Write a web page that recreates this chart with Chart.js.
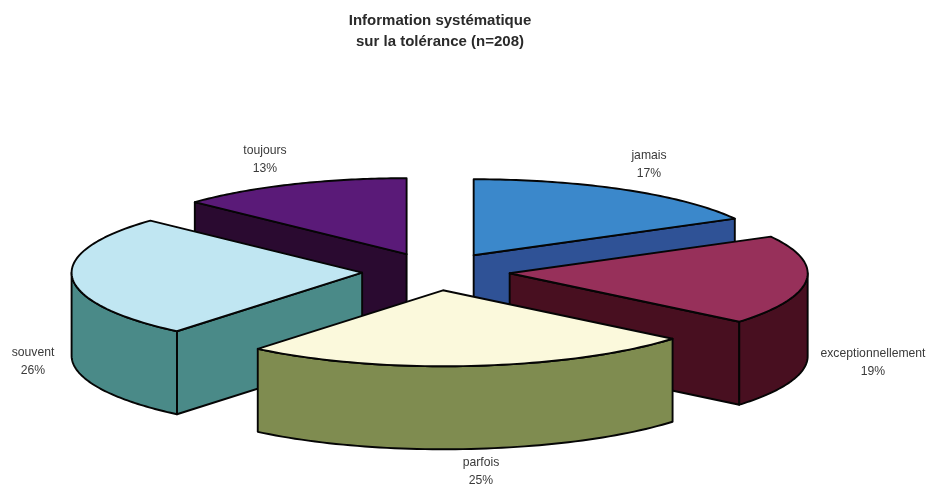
<!DOCTYPE html>
<html>
<head>
<meta charset="utf-8">
<script src="https://cdn.jsdelivr.net/npm/chart.js@4"></script>
<style>
  html, body { margin: 0; padding: 0; background: #fff; }
  #wrap { width: 928px; height: 485px; }
</style>
</head>
<body>
<div id="wrap"><canvas id="chart" width="928" height="485"></canvas></div>
<script>
const categories = ["jamais", "exceptionnellement", "parfois", "souvent", "toujours"];
const shares = [17, 19, 25, 26, 13];
const titleLines = ["Information systématique", "sur la tolérance (n=208)"];

const topColors = ["#3b88cb", "#97305a", "#fbf9dc", "#c0e6f2", "#5a1a78"];
const wallColors = ["#2f5296", "#480f20", "#7f8c50", "#4a8a88", "#2a0a30"];

// where the pie sits on the page and how it is tilted
const centerX = 436;
const centerY = 271.5;
const tilt = 0.255;
const leftSqueeze = 0.975; // the scan's left half is a little narrower
const depth = 83;
const explode = 296; // chart.js moves an arc by offset / 4
const paintOrder = [4, 0, 3, 1, 2];
const labelSpots = [
  [649, 156], [873, 354], [481, 463], [33, 353], [265, 151]
];

function paintSlice(ctx, arc, i) {
  const { startAngle, endAngle, outerRadius } = arc.getProps(["startAngle", "endAngle", "outerRadius"]);
  const shift = arc.options.offset / 4;
  const mid = (startAngle + endAngle) / 2;
  const tipX = centerX + Math.cos(mid) * shift;
  const tipY = centerY + Math.sin(mid) * shift * tilt;
  const rimX = (a) => tipX + Math.cos(a) * outerRadius * (Math.cos(a) < 0 ? leftSqueeze : 1);
  const rimY = (a) => tipY + Math.sin(a) * outerRadius * tilt;
  const traceRim = (from, to, drop) => {
    const steps = 60;
    for (let s = 0; s <= steps; s++) {
      const a = from + ((to - from) * s) / steps;
      ctx.lineTo(rimX(a), rimY(a) + drop);
    }
  };

  ctx.save();
  ctx.lineWidth = 1.9;
  ctx.strokeStyle = "#050505";
  ctx.lineJoin = "round";
  ctx.fillStyle = wallColors[i];

  // side walls that face the viewer
  [[startAngle, startAngle - Math.PI / 2], [endAngle, endAngle + Math.PI / 2]].forEach(([a, normal]) => {
    if (Math.sin(normal) <= 0.001) return;
    ctx.beginPath();
    ctx.moveTo(tipX, tipY);
    ctx.lineTo(rimX(a), rimY(a));
    ctx.lineTo(rimX(a), rimY(a) + depth);
    ctx.lineTo(tipX, tipY + depth);
    ctx.closePath();
    ctx.fill();
    ctx.stroke();
  });

  // outer wall, only the front half of the ellipse
  const from = Math.max(startAngle, 0);
  const to = Math.min(endAngle, Math.PI);
  if (to > from) {
    ctx.beginPath();
    traceRim(from, to, 0);
    traceRim(to, from, depth);
    ctx.closePath();
    ctx.fill();
    ctx.stroke();
  }

  // top face
  ctx.fillStyle = arc.options.backgroundColor;
  ctx.beginPath();
  ctx.moveTo(tipX, tipY);
  traceRim(startAngle, endAngle, 0);
  ctx.closePath();
  ctx.fill();
  ctx.stroke();
  ctx.restore();
}

const pie3d = {
  id: "pie3d",
  beforeDatasetDraw(chart, args) {
    const ctx = chart.ctx;
    const arcs = args.meta.data;
    paintOrder.forEach((i) => paintSlice(ctx, arcs[i], i));

    ctx.save();
    ctx.font = "12.2px 'Liberation Sans'";
    ctx.fillStyle = "#3a3a3a";
    ctx.textAlign = "center";
    ctx.textBaseline = "middle";
    categories.forEach((name, i) => {
      const [x, y] = labelSpots[i];
      ctx.fillText(name, x, y);
      ctx.fillText(shares[i] + "%", x, y + 18);
    });
    ctx.restore();
    return false;
  },
};

new Chart(document.querySelector("#chart"), {
  type: "pie",
  data: {
    labels: categories,
    datasets: [
      {
        data: shares,
        backgroundColor: topColors,
        borderWidth: 0,
        offset: explode,
        radius: 298,
      },
    ],
  },
  options: {
    responsive: false,
    animation: false,
    layout: { padding: { right: 48, top: 10 } },
    plugins: {
      legend: { display: false },
      tooltip: { enabled: false },
      title: {
        display: true,
        text: titleLines,
        color: "#2a2a2a",
        font: { family: "'Liberation Sans'", size: 15, weight: "bold", lineHeight: 1.4 },
        padding: 0,
      },
    },
  },
  plugins: [pie3d],
});
</script>
</body>
</html>
